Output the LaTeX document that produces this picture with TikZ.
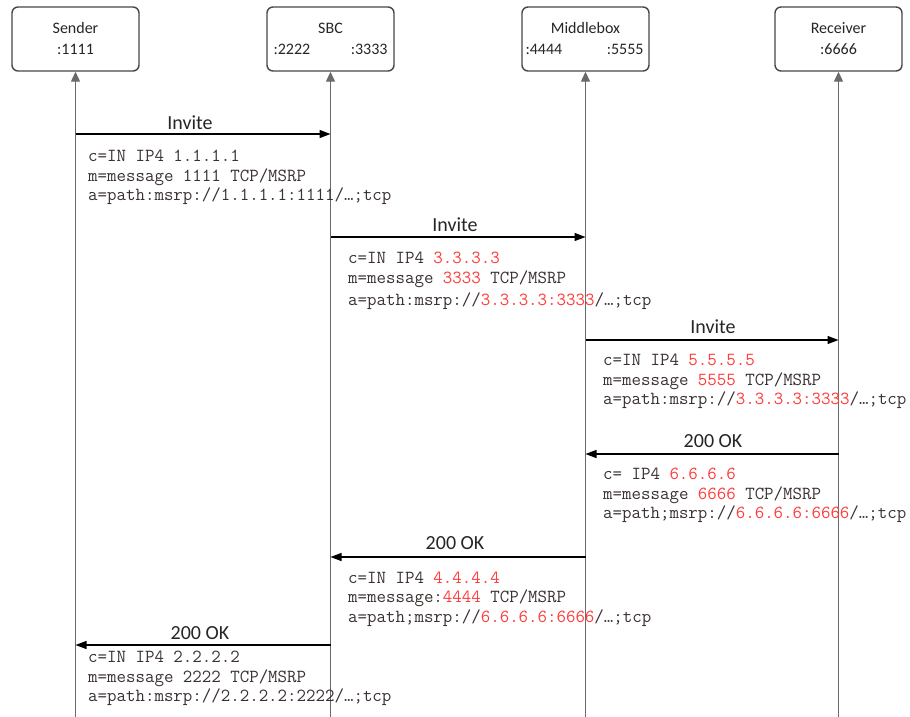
\documentclass[tikz,border=0pt]{standalone}
\usepackage{fontspec}
\setmainfont{Carlito}
\usetikzlibrary{arrows.meta}
\definecolor{boxline}{HTML}{474747}
\definecolor{lifeline}{HTML}{6A6A6A}
\definecolor{hl}{HTML}{FF3B3B}
\definecolor{sdp}{HTML}{3A3030}
\tikzset{
  entity/.style={draw=boxline, line width=1.4pt, rounded corners=6pt, minimum width=127pt, minimum height=64pt, inner sep=0pt, align=center, font=\fontsize{16}{21}\selectfont, text=black!85},
  life/.style={draw=lifeline, line width=1.2pt, -{Triangle[length=10pt,width=9pt]}},
  msg/.style={draw=black, line width=1.2pt, -{Triangle[length=11pt,width=8pt]}},
  msglabel/.style={font=\fontsize{20}{24}\selectfont, text=black!85, inner sep=0pt},
  sdpblock/.style={anchor=west, align=left, inner sep=0pt, text=sdp, font=\ttfamily\fontsize{18.4}{19.5}\selectfont}
}
\newcommand{\R}[1]{\textcolor{hl}{#1}}
\begin{document}
\begin{tikzpicture}[x=1pt,y=-1pt]
\useasboundingbox[fill=white] (0,0) rectangle (910,717);
% entities
\node[entity] (snd) at (75.5,39) {Sender\\:1111};
\node[entity] (sbc) at (330.5,39) {SBC\\\makebox[114pt]{:2222\hfill:3333}};
\node[entity] (mid) at (585.5,39) {Middlebox\\\hspace*{-2pt}\makebox[118pt]{:4444\hfill:5555}};
\node[entity] (rcv) at (838.5,39) {Receiver\\:6666};
% lifeline bottoms
\coordinate (sndB) at (75.5,717);
\coordinate (sbcB) at (330.5,717);
\coordinate (midB) at (585.5,717);
\coordinate (rcvB) at (838.5,717);
\draw[life] (sndB) -- (snd.south);
\draw[life] (sbcB) -- (sbc.south);
\draw[life] (midB) -- (mid.south);
\draw[life] (rcvB) -- (rcv.south);
% message end points
\coordinate (m1a) at (75.5,134);  \coordinate (m1b) at (330.5,134);
\coordinate (m2a) at (330.5,237); \coordinate (m2b) at (585.5,237);
\coordinate (m3a) at (585.5,340); \coordinate (m3b) at (838.5,340);
\coordinate (m4a) at (838.5,454); \coordinate (m4b) at (585.5,454);
\coordinate (m5a) at (585.5,557); \coordinate (m5b) at (330.5,557);
\coordinate (m6a) at (330.5,645); \coordinate (m6b) at (75.5,645);
\draw[msg] (m1a) -- (m1b);
\draw[msg] (m2a) -- (m2b);
\draw[msg] (m3a) -- (m3b);
\draw[msg] (m4a) -- (m4b);
\draw[msg] (m5a) -- (m5b);
\draw[msg] (m6a) -- (m6b);
% labels
\node[msglabel] (l1) at (190,123) {Invite};
\node[msglabel] (l2) at (455,225) {Invite};
\node[msglabel] (l3) at (713,327) {Invite};
\node[msglabel] (l4) at (713,441) {200 OK};
\node[msglabel] (l5) at (455,543) {200 OK};
\node[msglabel] (l6) at (200,633) {200 OK};
% SDP blocks
\node[sdpblock] (s1) at (88,177.5) {c=IN IP4 1.1.1.1\\m=message 1111 TCP/MSRP\\a=path:msrp://1.1.1.1:1111/…;tcp};
\node[sdpblock] (s2) at (348,281) {c=IN IP4 \R{3.3.3.3}\\m=message \R{3333} TCP/MSRP\\[3pt]a=path:msrp://\R{3.3.3.3:3333}/…;tcp};
\node[sdpblock] (s3) at (603,381.5) {c=IN IP4 \R{5.5.5.5}\\m=message \R{5555} TCP/MSRP\\a=path:msrp://\R{3.3.3.3:3333}/…;tcp};
\node[sdpblock] (s4) at (603,495.5) {c= IP4 \R{6.6.6.6}\\m=message \R{6666} TCP/MSRP\\a=path;msrp://\R{6.6.6.6:6666}/…;tcp};
\node[sdpblock] (s5) at (348,599) {c=IN IP4 \R{4.4.4.4}\\m=message:\R{4444} TCP/MSRP\\a=path;msrp://\R{6.6.6.6:6666}/…;tcp};
\node[sdpblock] (s6) at (88,678.5) {c=IN IP4 2.2.2.2\\m=message 2222 TCP/MSRP\\a=path:msrp://2.2.2.2:2222/…;tcp};
\end{tikzpicture}
\end{document}
